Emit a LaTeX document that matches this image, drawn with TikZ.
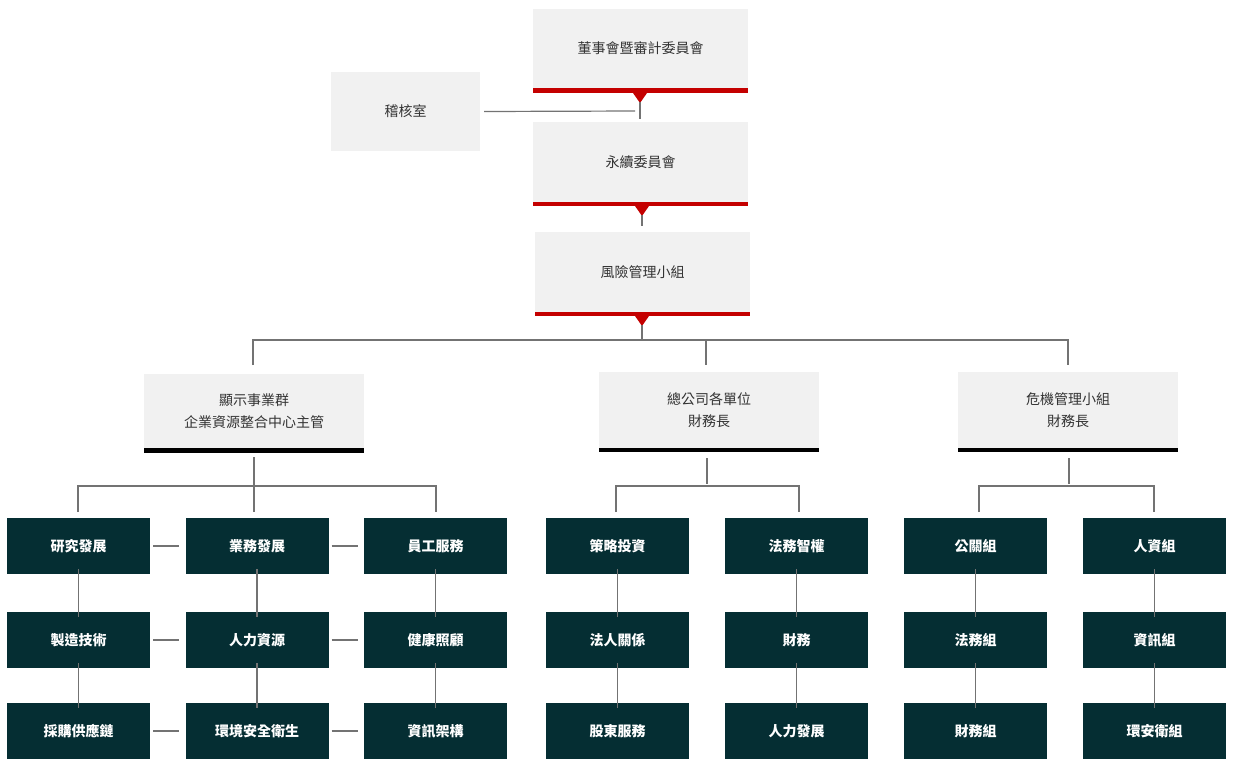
\documentclass[tikz,border=0pt]{standalone}
\usepackage{fontspec}
\setmainfont{Noto Sans CJK TC}
\newfontfamily\cjkb[FakeBold=0]{Noto Sans CJK TC Bold}
\begin{document}
\begin{tikzpicture}[x=1pt,y=-1pt,
  gbox/.style={fill=boxgray,draw=none,minimum width=#1,inner sep=0pt,font=\fontsize{14}{22}\selectfont,text=black!80,align=center},
  dbox/.style={fill=darkteal,draw=none,minimum width=143pt,minimum height=56pt,inner sep=0pt,font=\fontsize{14}{16}\selectfont\bfseries,text=white},
  ln/.style={draw=black!55,line width=1.2pt},
  redbar/.style={fill=barred,draw=none},
]
\definecolor{boxgray}{HTML}{F1F1F1}
\definecolor{darkteal}{HTML}{052E33}
\definecolor{barred}{HTML}{C40000}
\useasboundingbox (0,0) rectangle (1237,769);
% top chain
\node[gbox=215pt,minimum height=79pt] (b1) at (640.5,48.5) {董事會暨審計委員會};
\fill[barred] (533,88) rectangle (748,93);
\fill[barred] (633,93) -- (647,93) -- (640,103) -- cycle;
\node[gbox=149pt,minimum height=79pt] (aud) at (405.5,111.5) {稽核室};
\node[gbox=215pt,minimum height=80pt] (b2) at (640.5,162) {永續委員會};
\fill[barred] (533,202) rectangle (748,206);
\fill[barred] (635,206) -- (649,206) -- (642,216) -- cycle;
\node[gbox=215pt,minimum height=80pt] (b3) at (642.5,272) {風險管理小組};
\fill[barred] (535,312) rectangle (750,316);
\fill[barred] (635,316) -- (649,316) -- (642,326) -- cycle;
\coordinate (t1) at (640,102);
\coordinate (t2) at (642,215);
\coordinate (t3) at (642,325);
\draw[ln] (t1) -- (640,119);
\draw[ln] (aud.east) ++(4,0) -- (635,111);
\draw[ln] (t2) -- (642,226);
\draw[ln] (t3) -- (642,340);
\draw[ln] (253,365) -- (253,340) -- (1068,340) -- (1068,365);
\draw[ln] (706,340) -- (706,365);
% second level
\node[gbox=220pt,minimum height=74pt] (g1) at (254,411) {顯示事業群\\企業資源整合中心主管};
\fill[black] (144,448) rectangle (364,453);
\node[gbox=220pt,minimum height=76pt] (g2) at (709,410) {總公司各單位\\財務長};
\fill[black] (599,448) rectangle (819,452);
\node[gbox=220pt,minimum height=76pt] (g3) at (1068,410) {危機管理小組\\財務長};
\fill[black] (958,448) rectangle (1178,452);
% branches
\draw[ln] (254,457) -- (254,512);
\draw[ln] (78,512) -- (78,486) -- (436,486) -- (436,512);
\draw[ln] (707,458) -- (707,484);
\draw[ln] (616,512) -- (616,486) -- (799,486) -- (799,512);
\draw[ln] (1069,458) -- (1069,484);
\draw[ln] (979,512) -- (979,486) -- (1154,486) -- (1154,512);
% dark boxes
\foreach \n/\x/\y/\t in {
 a1/78.5/546/研究發展, a2/257/546/業務發展, a3/435.5/546/員工服務,
 a4/78.5/640/製造技術, a5/257/640/人力資源, a6/435.5/640/健康照顧,
 a7/78.5/731/採購供應鏈, a8/257/731/環境安全衛生, a9/435.5/731/資訊架構,
 m1/617.5/546/策略投資, m2/796.5/546/法務智權,
 m3/617.5/640/法人關係, m4/796.5/640/財務 / 會計,
 m5/617.5/731/股東服務, m6/796.5/731/人力發展,
 r1/975.5/546/公關組, r2/1154.5/546/人資組,
 r3/975.5/640/法務組, r4/1154.5/640/資訊組,
 r5/975.5/731/財務組, r6/1154.5/731/環安衛組}
 \node[dbox] (\n) at (\x,\y) {\t};
% horizontal connectors
\foreach \a/\b in {a1/a2,a2/a3,a4/a5,a5/a6,a7/a8,a8/a9}
 \draw[ln] ([xshift=3pt]\a.east) -- ([xshift=-6pt]\b.west);
% vertical connectors
\foreach \a/\b in {a1/a4,a4/a7,a2/a5,a5/a8,a3/a6,a6/a9,m1/m3,m3/m5,m2/m4,m4/m6,r1/r3,r3/r5,r2/r4,r4/r6}
 \draw[ln] ([yshift=5pt]\a.south) -- ([yshift=-5pt]\b.north);
\end{tikzpicture}
\end{document}
